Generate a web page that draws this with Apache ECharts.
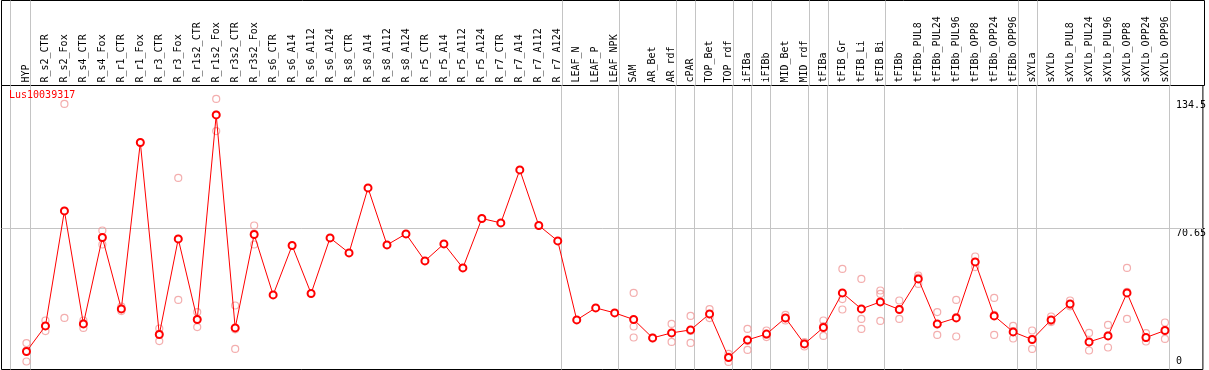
<!DOCTYPE html>
<html><head><meta charset="utf-8">
<script src="https://cdn.jsdelivr.net/npm/echarts@6/dist/echarts.min.js"></script>
<style>html,body{margin:0;padding:0;background:#fff}#c{width:1209px;height:370px}</style>
</head><body><div id="c"></div>
<script>
const geneName = 'Lus10039317';
const categories = ['HYP','R_s2_CTR','R_s2_Fox','R_s4_CTR','R_s4_Fox','R_r1_CTR','R_r1_Fox','R_r3_CTR','R_r3_Fox','R_r1s2_CTR','R_r1s2_Fox','R_r3s2_CTR','R_r3s2_Fox','R_s6_CTR','R_s6_A14','R_s6_A112','R_s6_A124','R_s8_CTR','R_s8_A14','R_s8_A112','R_s8_A124','R_r5_CTR','R_r5_A14','R_r5_A112','R_r5_A124','R_r7_CTR','R_r7_A14','R_r7_A112','R_r7_A124','LEAF_N','LEAF_P','LEAF_NPK','SAM','AR_Bet','AR_rdf','cPAR','TOP_Bet','TOP_rdf','iFIBa','iFIBb','MID_Bet','MID_rdf','tFIBa','tFIB_Gr','tFIB_Li','tFIB_Bi','tFIBb','tFIBb_PUL8','tFIBb_PUL24','tFIBb_PUL96','tFIBb_OPP8','tFIBb_OPP24','tFIBb_OPP96','sXYLa','sXYLb','sXYLb_PUL8','sXYLb_PUL24','sXYLb_PUL96','sXYLb_OPP8','sXYLb_OPP24','sXYLb_OPP96'];
const meanValues = [9.0,21.8,79.3,22.8,66.0,30.3,113.5,17.5,65.3,25.0,127.3,20.8,67.5,37.3,62.0,38.0,65.8,58.3,90.8,62.3,67.8,54.3,62.8,50.8,75.5,73.3,99.8,72.0,64.3,24.8,30.8,28.3,25.0,15.8,18.3,19.8,27.8,6.0,14.8,17.7,25.8,12.8,21.0,38.3,30.3,33.8,30.0,45.3,22.8,25.8,53.8,26.8,18.8,15.0,24.8,32.8,13.8,16.8,38.3,16.0,19.5];
const replicateValues = [
 [13.2,9.5,4.0],[24.5,21.7,19.2],[132.8,79.3,25.8],[24.5,23.1,20.8],[69.5,66.0,62.5],[31.5,30.2,29.2],[113.5],[20.5,17.8,14.2],[95.8,65.3,34.8],[28.7,25.1,21.2],[135.3,127.4,119.2],[32.0,20.1,10.3],[72.0,68.0,62.5],
 [],[],[],[],[],[],[],[],[],[],[],[],[],[],[],[],[],[],[],
 [38.3,21.5,16.0],[16.0,15.5],[22.8,18.3,13.8],[26.8,19.3,13.3],[30.2,27.5,25.7],[7.8,6.4,3.8],[20.3,14.3,9.8],[19.5,17.4,16.2],[27.3,25.6,24.5],[13.7,13.2,11.5],[24.5,21.7,16.8],[50.3,35.2,30.0],[45.3,25.3,20.3],[39.5,37.8,24.3],[34.5,30.2,25.3],[47.0,46.0,42.8],[28.7,22.5,17.3],[34.8,26.2,16.5],[56.5,53.8,51.2],[35.8,27.3,17.3],[21.8,19.2,15.5],[19.5,15.2,10.3],[26.5,24.2,23.7],[34.5,32.3,31.6],[18.3,13.6,9.5],[22.3,17.1,11.0],[50.8,38.8,25.3],[18.2,15.8,14.0],[23.5,19.7,15.3]
];
const groupEndIndices = [0,28,31,34,35,37,38,39,41,42,45,52,53,60];
const yTickLabels = [0, 70.65, 134.5];
const yGuideValue = 70.65;

// ---- layout (pixels) ----
const FONT = 'DejaVu Sans Mono';
const L = 1.5, W = 1203, PT = 85.5, PH = 284;
const X0 = 26.5, STEP = 19;
const xMin = (L - X0) / STEP, xMax = xMin + W / STEP;
const yMax = PH / 2;
const SEP_OFF = 4 / STEP;
const LEFT_SEP = (10.5 - X0) / STEP;

const sepPositions = [LEFT_SEP].concat(groupEndIndices.map(i => i + SEP_OFF));
const sepLines = sepPositions.map(v => ({ xAxis: v }));
const grey = '#c4c4c4';

const meanData = meanValues.map((v, i) => [i, v]);
const repData = [];
replicateValues.forEach((arr, i) => arr.forEach(v => repData.push([i, v])));

const chart = echarts.init(document.getElementById('c'), null, { renderer: 'canvas' });
chart.setOption({
  animation: false,
  backgroundColor: '#fff',
  title: {
    text: geneName, left: 9, top: 90, padding: 0,
    textStyle: { color: '#ff0000', fontFamily: FONT, fontSize: 10, fontWeight: 'normal' }
  },
  grid: [
    { left: L, top: PT, width: W, height: PH, show: true, borderColor: '#000', borderWidth: 1, backgroundColor: 'transparent' },
    { left: L, top: 0.5, width: W, height: 85, show: true, borderColor: '#000', borderWidth: 1, backgroundColor: 'transparent' }
  ],
  xAxis: [
    { gridIndex: 0, type: 'value', min: xMin, max: xMax, position: 'top',
      axisLine: { show: false }, axisTick: { show: false }, splitLine: { show: false },
      axisLabel: { customValues: categories.map((c, i) => i), rotate: 90, margin: 3,
        formatter: v => categories[Math.round(v)], fontFamily: FONT, fontSize: 10, color: '#000' } },
    { gridIndex: 1, type: 'value', min: xMin, max: xMax, show: false }
  ],
  yAxis: [
    { gridIndex: 0, type: 'value', min: 0, max: yMax, position: 'right',
      axisLine: { show: false }, axisTick: { show: false }, splitLine: { show: false },
      axisLabel: { inside: true, customValues: yTickLabels.filter(v => v > 0), align: 'left', verticalAlign: 'top', margin: 27,
        formatter: v => String(v), fontFamily: FONT, fontSize: 10, color: '#000' } },
    { gridIndex: 0, type: 'value', min: 0, max: yMax, position: 'right',
      axisLine: { show: false }, axisTick: { show: false }, splitLine: { show: false },
      axisLabel: { inside: true, customValues: yTickLabels.filter(v => v === 0), align: 'left', verticalAlign: 'bottom', margin: 27,
        formatter: v => String(v), fontFamily: FONT, fontSize: 10, color: '#000', padding: [0,0,3,0] } },
    { gridIndex: 1, type: 'value', min: 0, max: 1, show: false }
  ],
  series: [
    { type: 'line', xAxisIndex: 1, yAxisIndex: 2, data: [], silent: true,
      markLine: { silent: true, symbol: 'none', label: { show: false }, animation: false,
        lineStyle: { color: grey, width: 1, type: 'solid' }, data: sepLines } },
    { type: 'scatter', xAxisIndex: 0, yAxisIndex: 0, data: repData, symbol: 'circle', symbolSize: 7, z: 2,
      itemStyle: { color: 'rgba(0,0,0,0)', borderColor: '#f09a9a', borderWidth: 1.2 } },
    { type: 'line', xAxisIndex: 0, yAxisIndex: 0, data: meanData, symbol: 'emptyCircle', symbolSize: 7, z: 3,
      lineStyle: { color: '#ff0000', width: 1 }, itemStyle: { color: '#ff0000', borderColor: '#ff0000', borderWidth: 1.5 },
      markLine: { silent: true, symbol: 'none', label: { show: false }, animation: false,
        lineStyle: { color: grey, width: 1, type: 'solid' }, z: 1,
        data: sepLines.concat([{ yAxis: yGuideValue }]) } }
  ]
});
</script></body></html>
